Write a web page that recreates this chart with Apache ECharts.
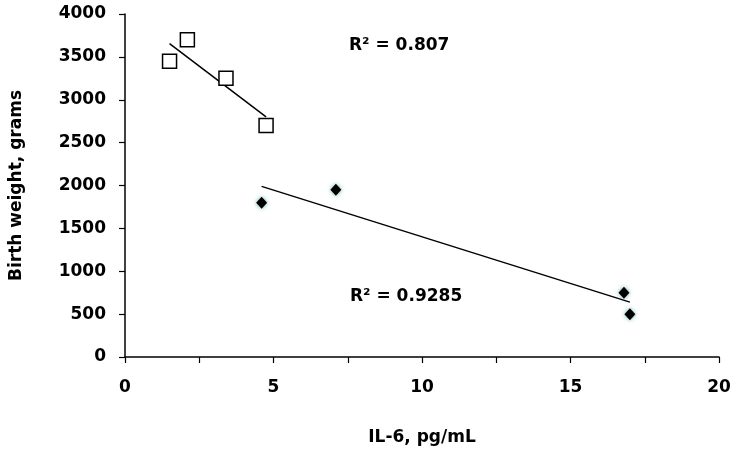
<!DOCTYPE html>
<html>
<head>
<meta charset="utf-8">
<script src="https://cdn.jsdelivr.net/npm/echarts@6/dist/echarts.min.js"></script>
<style>
  html, body { margin: 0; padding: 0; background: #fff; }
  #chart { width: 737px; height: 451px; }
</style>
</head>
<body>
<div id="chart"></div>
<script>
// data
const squarePoints = [[1.5, 3450], [2.1, 3700], [3.4, 3250], [4.75, 2700]]
const diamondPoints = [[4.6, 1800], [7.1, 1950], [16.8, 750], [17.0, 500]]
// trend line end points
const squareTrend = [[1.5, 3655], [4.75, 2800]]
const diamondTrend = [[4.6, 1990], [17.0, 640]]
const r2Labels = ['R² = 0.807', 'R² = 0.9285']

const font = 'DejaVu Sans'
const txt = {color: '#000', fontFamily: font, fontWeight: 'bold', fontSize: 17}

let myChart = echarts.init(document.getElementById('chart'))
let option = {
  animation: false,
  backgroundColor: '#fff',
  grid: {left: 124, right: 18, top: 14, bottom: 94},
  xAxis: {
    type: 'value',
    min: 0,
    max: 20,
    interval: 5,
    name: 'IL-6, pg/mL',
    nameLocation: 'middle',
    nameGap: 72,
    nameTextStyle: txt,
    axisLine: {show: true, onZero: false, lineStyle: {color: '#000', width: 1.5}},
    axisTick: {show: true, length: 6, lineStyle: {color: '#000', width: 1.2}},
    minorTick: {show: true, splitNumber: 2, length: 6, lineStyle: {color: '#000', width: 1.2}},
    axisLabel: Object.assign({margin: 22, formatter: function (v) { return String(v) }}, txt),
    splitLine: {show: false}
  },
  yAxis: {
    type: 'value',
    min: 0,
    max: 4000,
    interval: 500,
    name: 'Birth weight, grams',
    nameLocation: 'middle',
    nameGap: 100,
    nameTextStyle: txt,
    axisLine: {show: true, lineStyle: {color: '#000', width: 1.5}},
    axisTick: {show: true, length: 6, lineStyle: {color: '#000', width: 1.2}},
    axisLabel: Object.assign({margin: 19, formatter: function (v) { return String(v) }}, txt),
    splitLine: {show: false}
  },
  series: [
    {
      type: 'line',
      data: squareTrend,
      symbol: 'none',
      lineStyle: {color: '#000', width: 1.5},
      z: 1
    },
    {
      type: 'line',
      data: diamondTrend,
      symbol: 'none',
      lineStyle: {color: '#000', width: 1.5},
      z: 1
    },
    {
      type: 'scatter',
      data: squarePoints,
      symbol: 'rect',
      symbolSize: 14,
      itemStyle: {color: '#fff', borderColor: '#000', borderWidth: 1.5, opacity: 1},
      z: 3
    },
    {
      type: 'scatter',
      data: diamondPoints,
      symbol: 'diamond',
      symbolSize: [11, 12],
      itemStyle: {color: '#000', shadowBlur: 4, shadowColor: 'rgba(40,140,140,0.7)', opacity: 1},
      z: 3
    }
  ],
  graphic: [
    {type: 'text', left: 349, top: 37, style: {text: r2Labels[0], fill: '#000', font: 'bold 17px ' + font}},
    {type: 'text', left: 350, top: 288, style: {text: r2Labels[1], fill: '#000', font: 'bold 17px ' + font}}
  ]
}
myChart.setOption(option)
</script>
</body>
</html>
